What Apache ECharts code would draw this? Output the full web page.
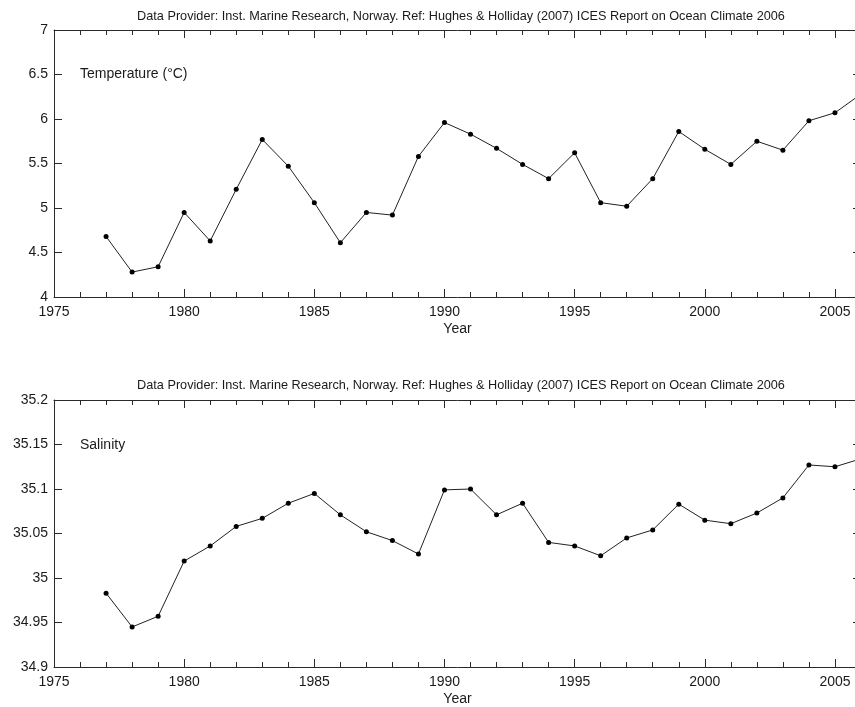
<!DOCTYPE html>
<html>
<head>
<meta charset="utf-8">
<script src="https://cdn.jsdelivr.net/npm/echarts@6/dist/echarts.min.js"></script>
<style>
  html, body { margin: 0; padding: 0; background: #fff; overflow: hidden; }
  #chart { width: 880px; height: 707px; }
</style>
</head>
<body>
<div id="chart"></div>
<script>
// Annual series, 1977-2006
const years = [1977, 1978, 1979, 1980, 1981, 1982, 1983, 1984, 1985, 1986,
               1987, 1988, 1989, 1990, 1991, 1992, 1993, 1994, 1995, 1996,
               1997, 1998, 1999, 2000, 2001, 2002, 2003, 2004, 2005, 2006];
const temperature = [4.68, 4.28, 4.34, 4.95, 4.63, 5.21, 5.77, 5.47, 5.06, 4.61,
                     4.95, 4.92, 5.58, 5.96, 5.83, 5.67, 5.49, 5.33, 5.62, 5.06,
                     5.02, 5.33, 5.86, 5.66, 5.49, 5.75, 5.65, 5.98, 6.07, 6.28];
const salinity = [34.983, 34.945, 34.957, 35.019, 35.036, 35.058, 35.067, 35.084, 35.095, 35.071,
                  35.052, 35.042, 35.027, 35.099, 35.100, 35.071, 35.084, 35.040, 35.036, 35.025,
                  35.045, 35.054, 35.083, 35.065, 35.061, 35.073, 35.090, 35.127, 35.125, 35.134];

const headerText = 'Data Provider: Inst. Marine Research, Norway. Ref: Hughes & Holliday (2007) ICES Report on Ocean Climate 2006';
const panelLabels = ['Temperature (\u00B0C)', 'Salinity'];
const xRange = { min: 1975, max: 2006, interval: 5 };
const tempRange = { min: 4, max: 7, interval: 0.5 };
const salRange = { min: 34.9, max: 35.2, interval: 0.05 };

const FONT = 'Liberation Sans, Arial, Helvetica, sans-serif';
const INK = '#1a1a1a';
const AXIS = '#2a2a2a';

function xAxisDef(gridIndex, position, withLabels) {
  return {
    type: 'value', gridIndex, position,
    min: xRange.min, max: xRange.max, interval: xRange.interval,
    axisLine: { show: true, lineStyle: { color: AXIS, width: 1 } },
    axisTick: { show: true, inside: true, length: 8, lineStyle: { color: AXIS } },
    minorTick: { show: true, splitNumber: 5, length: 5, lineStyle: { color: AXIS } },
    splitLine: { show: false },
    axisLabel: {
      show: withLabels, margin: 8, fontSize: 14, color: INK, fontFamily: FONT,
      showMaxLabel: false,
      formatter: v => (v % 5 === 0 ? String(v) : '')
    },
    name: withLabels ? 'Year' : '',
    nameLocation: 'middle', nameGap: 25,
    nameTextStyle: { fontSize: 14, color: INK, fontFamily: FONT }
  };
}

function yAxisDef(gridIndex, position, range, withLabels) {
  return {
    type: 'value', gridIndex, position,
    min: range.min, max: range.max, interval: range.interval,
    axisLine: { show: true, lineStyle: { color: AXIS, width: 1 } },
    axisTick: { show: true, inside: true, length: 8, lineStyle: { color: AXIS } },
    splitLine: { show: false },
    axisLabel: { show: withLabels, margin: 6, fontSize: 14, color: INK, fontFamily: FONT }
  };
}

function lineSeries(index, values) {
  return {
    type: 'line', xAxisIndex: index * 2, yAxisIndex: index * 2,
    data: years.map((y, i) => [y, values[i]]),
    symbol: 'circle', symbolSize: 5,
    itemStyle: { color: '#000' },
    lineStyle: { color: '#222', width: 1 },
    animation: false, clip: true
  };
}

const chart = echarts.init(document.getElementById('chart'), null, { renderer: 'canvas' });
chart.setOption({
  backgroundColor: '#fff',
  animation: false,
  grid: [
    { left: 54, top: 30, width: 807, height: 267 },
    { left: 54, top: 400, width: 807, height: 267 }
  ],
  xAxis: [
    xAxisDef(0, 'bottom', true), xAxisDef(0, 'top', false),
    xAxisDef(1, 'bottom', true), xAxisDef(1, 'top', false)
  ],
  yAxis: [
    yAxisDef(0, 'left', tempRange, true), yAxisDef(0, 'right', tempRange, false),
    yAxisDef(1, 'left', salRange, true), yAxisDef(1, 'right', salRange, false)
  ],
  series: [lineSeries(0, temperature), lineSeries(1, salinity)],
  graphic: [
    { type: 'text', x: 461, y: 16, style: { text: headerText, font: '12.7px ' + FONT, fill: INK, textAlign: 'center', textVerticalAlign: 'middle' } },
    { type: 'text', x: 461, y: 385, style: { text: headerText, font: '12.7px ' + FONT, fill: INK, textAlign: 'center', textVerticalAlign: 'middle' } },
    { type: 'text', x: 80, y: 74, style: { text: panelLabels[0], font: '14px ' + FONT, fill: INK, textAlign: 'left', textVerticalAlign: 'middle' } },
    { type: 'text', x: 80, y: 445, style: { text: panelLabels[1], font: '14px ' + FONT, fill: INK, textAlign: 'left', textVerticalAlign: 'middle' } }
  ]
});
</script>
</body>
</html>
